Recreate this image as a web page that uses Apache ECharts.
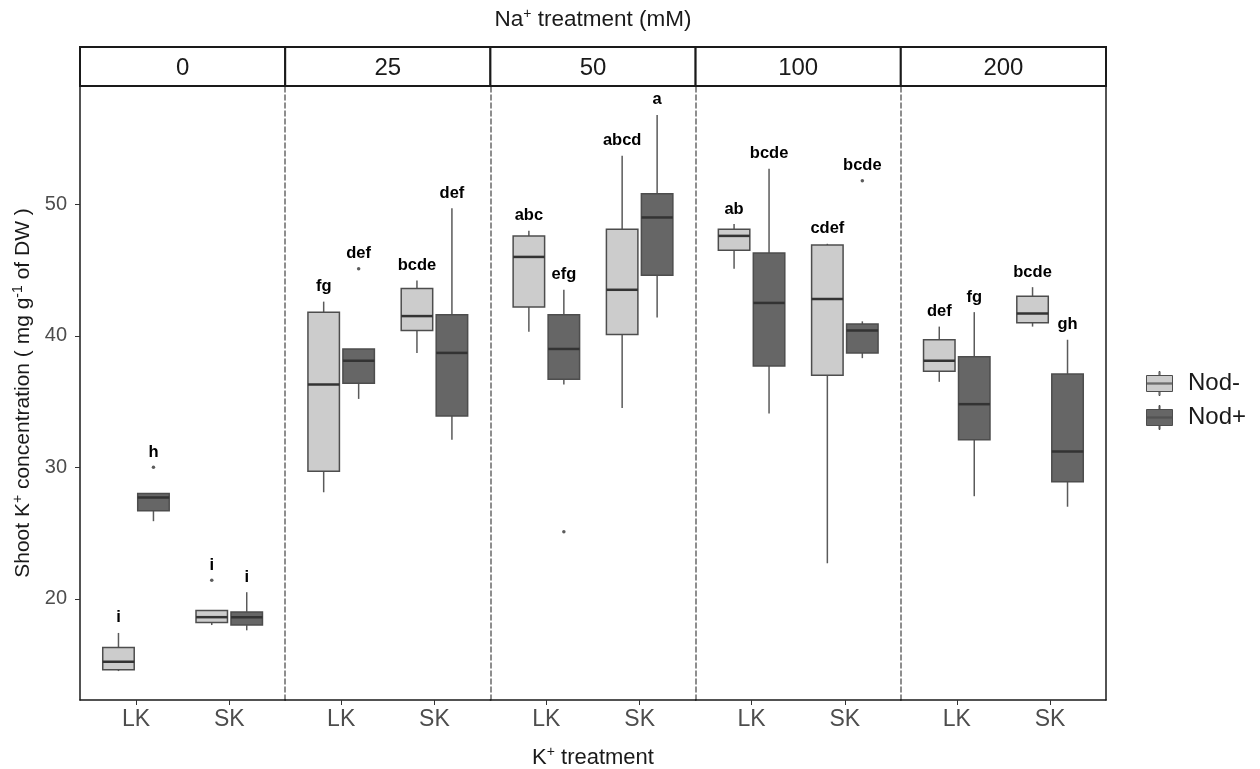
<!DOCTYPE html>
<html>
<head>
<meta charset="utf-8">
<script src="https://cdn.jsdelivr.net/npm/echarts@6/dist/echarts.min.js"></script>
<style>
  html, body { margin: 0; padding: 0; background: #ffffff; }
  #chart { width: 1260px; height: 769px; }
</style>
</head>
<body>
<div id="chart"></div>
<script>
// Na+ treatment levels (facets), K+ treatment levels (x categories), nodulation groups
const naLevels = ['0', '25', '50', '100', '200'];
const kLevels = ['LK', 'SK'];
const groupNames = ['Nod-', 'Nod+'];
const yTicks = [20, 30, 40, 50];

// Five-number summaries [lower whisker, Q1, median, Q3, upper whisker]
// ordered by Na level, LK row then SK row
const nodMinusStats = [
  [14.5, 14.6, 15.2, 16.3, 17.4],   // 0 LK
  [18.0, 18.2, 18.6, 19.1, 19.1],   // 0 SK
  [28.1, 29.7, 36.3, 41.8, 42.6],   // 25 LK
  [38.7, 40.4, 41.5, 43.6, 44.2],   // 25 SK
  [40.3, 42.2, 46.0, 47.6, 48.0],   // 50 LK
  [34.5, 40.1, 43.5, 48.1, 53.7],   // 50 SK
  [45.1, 46.5, 47.6, 48.1, 48.5],   // 100 LK
  [22.7, 37.0, 42.8, 46.9, 47.0],   // 100 SK
  [36.5, 37.3, 38.1, 39.7, 40.7],   // 200 LK
  [40.7, 41.0, 41.7, 43.0, 43.7]    // 200 SK
];
const nodPlusStats = [
  [25.9, 26.7, 27.7, 28.0, 28.0],   // 0 LK
  [17.6, 18.0, 18.6, 19.0, 20.5],   // 0 SK
  [35.2, 36.4, 38.1, 39.0, 39.0],   // 25 LK
  [32.1, 33.9, 38.7, 41.6, 49.7],   // 25 SK
  [36.3, 36.7, 39.0, 41.6, 43.5],   // 50 LK
  [41.4, 44.6, 49.0, 50.8, 56.8],   // 50 SK
  [34.1, 37.7, 42.5, 46.3, 52.7],   // 100 LK
  [38.3, 38.7, 40.4, 40.9, 41.1],   // 100 SK
  [27.8, 32.1, 34.8, 38.4, 41.8],   // 200 LK
  [27.0, 28.9, 31.2, 37.1, 39.7]    // 200 SK
];

// Outliers: [Na level index, K level index, value]
const nodMinusOutliers = [[0, 1, 21.4]];
const nodPlusOutliers = [[0, 0, 30.0], [1, 0, 45.1], [2, 0, 25.1], [3, 1, 51.8]];

// Significance letters, same order as the summaries
const nodMinusLetters = ['i', 'i', 'fg', 'bcde', 'abc', 'abcd', 'ab', 'cdef', 'def', 'bcde'];
const nodPlusLetters = ['h', 'i', 'def', 'def', 'efg', 'a', 'bcde', 'bcde', 'fg', 'gh'];

// ---- layout ----
const FONT = 'Liberation Sans, Arial, Helvetica, sans-serif';
const PANEL_LEFT = 80;
const PANEL_W = 205.2;
const PLOT_TOP = 86;
const PLOT_H = 614;
const STRIP_TOP = 47;
const Y_MIN = 12.3;
const Y_MAX = 59.0;
const X_MIN = 0.4;
const X_MAX = 2.6;
const DODGE = [-0.1875, 0.1875];
const BOX_W = 0.3375;
const FILLS = ['#cccccc', '#666666'];
const EDGE = '#4d4d4d';

const groupStats = [nodMinusStats, nodPlusStats];
const groupOutliers = [nodMinusOutliers, nodPlusOutliers];
const groupLetters = [nodMinusLetters, nodPlusLetters];

const supTitle = { fontFamily: FONT, color: '#1a1a1a', fontSize: 14, padding: [0, 0, 11, 0] };
const supAxis = { fontFamily: FONT, color: '#1a1a1a', fontSize: 14, padding: [0, 0, 10, 0] };

const grids = [], xAxes = [], yAxes = [], series = [];

naLevels.forEach((lv, p) => {
  grids.push({ left: PANEL_LEFT + p * PANEL_W, top: PLOT_TOP, width: PANEL_W, height: PLOT_H,
    containLabel: false, outerBoundsMode: 'none' });
  xAxes.push({
    type: 'value', gridIndex: p, min: X_MIN, max: X_MAX,
    axisLine: { show: true, onZero: false, lineStyle: { color: '#1a1a1a', width: 1.5 } },
    axisTick: { show: true, customValues: [1, 2], length: 5, lineStyle: { color: '#333333', width: 1 } },
    axisLabel: { show: true, customValues: [1, 2], formatter: v => kLevels[Math.round(v) - 1],
      color: '#4d4d4d', fontSize: 23, fontFamily: FONT, margin: 8 },
    splitLine: { show: false },
    name: p === 2 ? 'K{sup|+} treatment' : '',
    nameLocation: 'middle', nameGap: 45,
    nameTextStyle: { fontSize: 22, color: '#1a1a1a', fontFamily: FONT, rich: { sup: supTitle } }
  });
  yAxes.push({
    type: 'value', gridIndex: p, min: Y_MIN, max: Y_MAX,
    axisLine: p === 0
      ? { show: true, onZero: false, lineStyle: { color: '#1a1a1a', width: 1.5 } }
      : { show: true, onZero: false, lineStyle: { color: '#6a6a6a', width: 1.5, type: [5, 3] } },
    axisTick: { show: p === 0, customValues: yTicks, length: 5, lineStyle: { color: '#333333' } },
    axisLabel: { show: p === 0, customValues: yTicks, color: '#4d4d4d', fontSize: 20, fontFamily: FONT, margin: 13 },
    splitLine: { show: false },
    name: p === 0 ? 'Shoot K{sup|+} concentration ( mg g{sup|-1} of DW )' : '',
    nameLocation: 'middle', nameRotate: 90, nameGap: 45,
    nameTextStyle: { fontSize: 21, color: '#1a1a1a', fontFamily: FONT, rich: { sup: supAxis } }
  });

  groupNames.forEach((gname, g) => {
    const stats = groupStats[g];
    const outs = groupOutliers[g];
    const letters = groupLetters[g];
    const rows = kLevels.map((k, ki) => {
      const s = stats[p * 2 + ki];
      const extra = outs.filter(o => o[0] === p && o[1] === ki).map(o => o[2]);
      return [ki + 1].concat(s, [Math.max(s[4], ...extra)]);
    });
    const dodge = DODGE[g];
    series.push({
      type: 'custom', name: gname, xAxisIndex: p, yAxisIndex: p,
      itemStyle: { color: FILLS[g], borderColor: EDGE },
      encode: { x: 0, y: [1, 2, 3, 4, 5] },
      data: rows,
      renderItem: (params, api) => {
        const x = api.value(0) + dodge;
        const lo = api.coord([x, api.value(1)]);
        const q1 = api.coord([x, api.value(2)]);
        const md = api.coord([x, api.value(3)]);
        const q3 = api.coord([x, api.value(4)]);
        const hi = api.coord([x, api.value(5)]);
        const top = api.coord([x, api.value(6)]);
        const hw = api.size([BOX_W, 0])[0] / 2;
        const letter = letters[p * 2 + Math.round(api.value(0)) - 1];
        return {
          type: 'group',
          children: [
            { type: 'line', shape: { x1: lo[0], y1: lo[1], x2: q1[0], y2: q1[1] }, style: { stroke: '#5a5a5a', lineWidth: 1.5 } },
            { type: 'line', shape: { x1: q3[0], y1: q3[1], x2: hi[0], y2: hi[1] }, style: { stroke: '#5a5a5a', lineWidth: 1.5 } },
            { type: 'rect', shape: { x: q3[0] - hw, y: q3[1], width: hw * 2, height: q1[1] - q3[1] },
              style: { fill: FILLS[g], stroke: EDGE, lineWidth: 1.5 } },
            { type: 'line', shape: { x1: md[0] - hw, y1: md[1], x2: md[0] + hw, y2: md[1] }, style: { stroke: '#333333', lineWidth: 2.5 } },
            { type: 'text', style: { text: letter, x: top[0], y: top[1] - 15, align: 'center', verticalAlign: 'middle',
              fill: '#000000', fontSize: 16.5, fontWeight: 'bold', fontFamily: FONT } }
          ]
        };
      }
    });
    series.push({
      type: 'scatter', name: gname + ' outliers', xAxisIndex: p, yAxisIndex: p,
      symbol: 'circle', symbolSize: 3.5, itemStyle: { color: '#333333' }, silent: true,
      data: outs.filter(o => o[0] === p).map(o => [o[1] + 1 + dodge, o[2]])
    });
  });
});

// right-hand frame edge
yAxes.push({
  type: 'value', gridIndex: 4, position: 'right', min: Y_MIN, max: Y_MAX,
  axisLine: { show: true, onZero: false, lineStyle: { color: '#1a1a1a', width: 1.5 } },
  axisTick: { show: false }, axisLabel: { show: false }, splitLine: { show: false }
});

// facet strips
const strips = [];
naLevels.forEach((lv, p) => {
  strips.push({ type: 'rect', z: 10,
    shape: { x: PANEL_LEFT + p * PANEL_W, y: STRIP_TOP, width: PANEL_W, height: PLOT_TOP - STRIP_TOP },
    style: { fill: '#ffffff', stroke: '#1a1a1a', lineWidth: 2 } });
  strips.push({ type: 'text', z: 11,
    style: { text: lv, x: PANEL_LEFT + p * PANEL_W + PANEL_W / 2, y: (STRIP_TOP + PLOT_TOP) / 2 + 1.5,
      align: 'center', verticalAlign: 'middle', fill: '#1a1a1a', fontSize: 24, fontFamily: FONT } });
});

const chart = echarts.init(document.getElementById('chart'), null, { renderer: 'canvas' });
chart.setOption({
  animation: false,
  backgroundColor: '#ffffff',
  textStyle: { fontFamily: FONT },
  title: {
    text: 'Na{sup|+} treatment (mM)',
    left: 588, top: 2, textAlign: 'center',
    textStyle: { fontSize: 22.5, fontWeight: 'normal', color: '#1a1a1a', fontFamily: FONT, rich: { sup: supTitle } }
  },
  legend: {
    data: groupNames, orient: 'vertical', left: 1141, top: 366,
    itemWidth: 27, itemHeight: 24, itemGap: 9, selectedMode: false,
    icon: 'path://M0,4H26V20H0Z M0,11.5H26V12.5H0Z M12.5,0H13.5V4H12.5Z M12.5,20H13.5V24H12.5Z',
    itemStyle: { borderColor: EDGE, borderWidth: 1 },
    textStyle: { fontSize: 24, lineHeight: 24, color: '#1a1a1a', fontFamily: FONT, padding: [0, 0, 0, 10] }
  },
  grid: grids,
  xAxis: xAxes,
  yAxis: yAxes,
  series: series,
  graphic: strips
});
</script>
</body>
</html>
